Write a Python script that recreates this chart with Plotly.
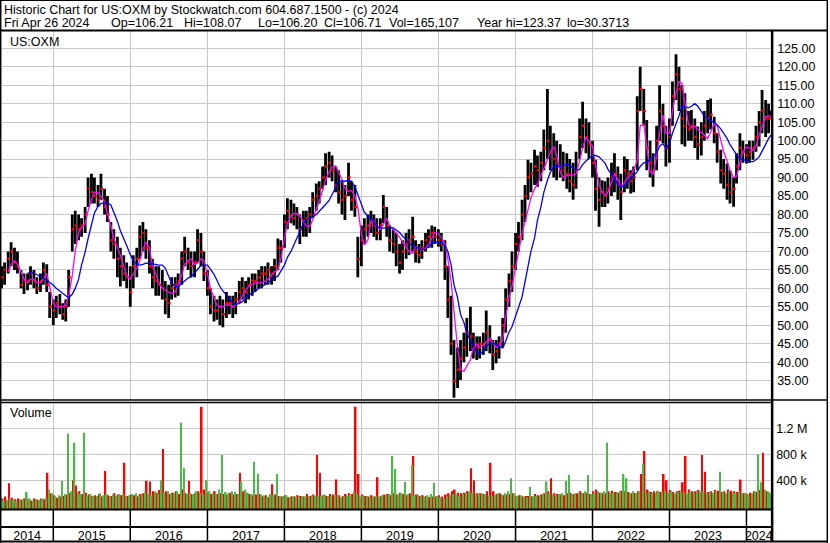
"""
Historic chart US:OXM (Stockwatch style) - price bars, two moving averages, volume.
"""
import pandas as pd
import plotly.graph_objects as go

# ---- data (semi-monthly slots, May 2014 .. 26 Apr 2024) ----
START = "2014-05-01"
LAST_DAY = "2024-04-26"
X_RANGE = ["2014-04-28", "2024-04-27"]
YEARS = list(range(2014, 2025))

HIGH = [
    66, 67, 70, 72.5, 71, 70, 65, 64, 64, 66, 65, 63,
    64, 67, 66.5, 59, 57, 58, 58.5, 56, 57, 65, 80, 81,
    80, 79, 82, 90, 91, 90, 88, 91, 87, 85, 78, 76,
    74, 71, 69, 67, 66, 69, 71, 77, 78, 76, 73, 68,
    66, 66, 65, 62, 61, 63, 63, 64, 70, 74, 71, 70,
    70, 76, 75, 70, 65, 60, 58, 57, 58, 57, 59, 58,
    58, 59, 62, 63, 62, 63, 64, 64, 65, 66, 66, 67,
    66, 68, 73.5, 73, 80, 84.4, 84, 83, 82, 80, 81, 81,
    82, 86, 88.4, 89, 93, 96.6, 97, 96, 93, 92, 89, 88,
    94, 89, 88, 74, 77, 79, 80, 81, 80, 79, 79, 85.3,
    82, 77, 76, 75, 72, 73, 75, 76, 79.4, 73, 72, 73,
    75, 76, 77, 76.7, 76, 75, 73, 66, 58, 46, 44, 46,
    48, 52, 55, 48, 47, 47, 48, 54, 50, 46, 46, 47,
    52, 60, 64, 70, 75, 78, 84, 88, 94.8, 94, 97.5, 96,
    97, 103, 114, 104, 102, 100, 99, 97, 96.6, 95, 94, 97,
    106, 110.5, 106, 105, 100, 94.8, 90, 89.3, 89, 90, 94, 96.6,
    93, 91, 95.7, 95, 92, 93, 112, 120, 114, 105.6, 100, 96.6,
    104, 115, 110, 104, 106, 116, 123.4, 120, 115, 112.8, 108, 108.3,
    106, 103.8, 105, 108, 111, 111.4, 106.5, 102, 97.5, 95, 93.8, 92,
    90, 96.6, 102, 100, 99, 100, 100, 104, 108, 113.7, 111, 110,
    108.07,
]
LOW = [
    60, 61, 64, 66, 65, 64, 60, 58.5, 59.5, 61, 60, 58.5,
    59, 61, 59, 52, 50, 52, 53, 51.5, 51, 55, 70, 72,
    73, 74, 75, 82, 83, 83, 82, 84, 80, 78, 70, 68,
    63, 60.5, 62, 60, 55, 60, 63, 68, 70, 68, 64, 60,
    58, 58, 57, 53, 52, 57, 57.5, 58, 61, 66, 65, 63,
    63, 67, 66, 62, 58, 53, 51, 51.5, 50, 49.5, 52, 53,
    52, 53, 56, 57, 56, 57, 58, 59, 60, 60, 61, 61,
    61, 62, 65, 67, 71, 76, 77.6, 77, 76, 72, 74, 74,
    75, 79, 81, 83, 87, 88, 90, 89, 86, 83, 80, 78.5,
    85, 81, 79.4, 63, 66, 72, 74, 75, 74, 73, 73, 77.6,
    74, 70, 69.5, 66, 64, 65, 68, 69, 70, 67, 66.8, 68,
    70, 71, 71, 72, 71.3, 70, 62.3, 52, 42, 30.4, 33, 35.2,
    40, 41.5, 43, 41, 40.6, 41, 42, 43, 42.4, 37.9, 39.7, 41,
    44, 48, 55, 59, 65, 70, 73, 78, 84, 86, 88, 87.5,
    89, 92, 95, 92, 90, 89.3, 90, 89, 87, 86, 84, 87,
    95, 98, 96.6, 95, 90, 81, 76.7, 82, 82, 83, 85, 86,
    84, 78.5, 86, 87, 85.7, 86, 92, 108, 104, 92, 90, 87.5,
    92, 100, 99.3, 93, 94, 104, 111, 108, 99, 98.4, 100, 100,
    98, 94.8, 96, 100, 102, 103, 99.3, 94, 88.4, 87, 84, 83,
    82.1, 88.4, 92, 94, 93.8, 94, 94.8, 97, 98.4, 102, 101, 102,
    106.2,
]
CLOSE = [
    63, 65, 68, 70, 67, 66, 61, 62, 62, 64, 62, 60,
    62, 65, 61, 55, 54, 56, 55, 53, 55, 63, 76, 77,
    76, 77, 80, 87, 86, 85, 84, 87, 82, 80, 73, 72,
    68, 66, 64, 63, 59, 66, 68, 74, 75, 71, 66, 63,
    62, 61, 60, 57, 56, 60, 61, 62, 68, 70, 67, 66,
    67, 73, 70, 64, 60, 55, 54, 54, 55, 53, 56, 56,
    55, 57, 59, 60, 59, 61, 62, 62, 63, 64, 64, 65,
    64, 66, 71, 71, 78, 81, 80, 79, 80, 76, 78, 79,
    80, 84, 85, 87, 90, 93, 94, 92, 88, 86, 84, 85,
    90, 84, 82, 68, 73, 76, 77, 78, 77, 75, 77, 82,
    77, 73, 72, 70, 67, 70, 72, 73, 74, 70, 69, 71,
    73, 74, 75, 74, 73, 72, 66, 57, 45, 35, 38, 41,
    44, 48, 47, 44, 44, 45, 45, 48, 46, 42, 43, 45,
    50, 57, 62, 66, 72, 74, 80, 85, 90, 91, 93, 92,
    94, 98, 100, 97, 95, 94, 93, 92, 91, 89, 88, 92,
    101, 104, 101, 99, 94, 87, 84, 86, 85, 87, 90, 91,
    88, 86, 92, 91, 89, 90, 108, 114, 108, 98, 94, 92,
    100, 108, 104, 98, 101, 112, 118, 114, 106, 104, 103, 104,
    101, 99, 101, 104, 106, 107, 102, 97, 92, 91, 88, 86,
    87, 93, 98, 97, 96, 97, 98, 101, 105, 108, 106, 106,
    106.71,
]
# magenta (short) moving average
MA_SHORT = [
    None, None, 64.5, 66.5, 67.5, 66.5, 64.5, 62.5, 61.5, 62.5, 62.5, 61.5,
    61.5, 62.5, 64, 60, 56, 55, 55, 55, 55.5, 58, 63.5, 70,
    75, 76.5, 77.5, 81, 84, 86, 86, 85, 83.5, 80, 77, 73.5,
    71, 69, 66, 63.5, 62.5, 64, 65.5, 67.5, 70.5, 72.5, 71, 66,
    64, 61.5, 60, 59.5, 59, 58.6, 59, 61, 63.5, 66.5, 67.5, 68,
    66.5, 66.8, 68, 67.5, 64, 60, 57.5, 55.5, 55, 55, 55.5, 55.5,
    55, 55.5, 56.5, 58, 59.5, 60.5, 61, 61.5, 61.5, 61.5, 62, 62.5,
    63.5, 64.5, 65, 68, 73.5, 77.5, 79.5, 80.3, 80.3, 79.6, 78, 77,
    76.7, 78.5, 81.5, 83.5, 86.5, 89.3, 91.5, 92.8, 93.2, 91.5, 89.5, 87,
    86.2, 86.5, 85, 82, 74.6, 71.7, 73.1, 78.1, 78.5, 76.8, 75.9, 77.4,
    79, 77, 76, 75, 73.8, 72.5, 71, 70, 69.5, 71.3, 70.8, 70.4,
    70.8, 71.8, 73.5, 75.2, 74.8, 73.8, 72, 68, 62, 53.5, 44, 38,
    37.5, 39, 40.6, 44, 45, 44, 44.5, 45.5, 46.5, 45.3, 44, 44.5,
    46, 52, 57.5, 60.5, 65.5, 70.5, 74.8, 78, 81, 84.5, 87, 88.2,
    90.5, 92.5, 94.5, 96.8, 98.4, 96, 91.5, 90, 90.5, 90.7, 90.7, 91,
    94.5, 98, 101, 100, 98.5, 93.5, 88, 86, 85.3, 86, 88.5, 91,
    89.5, 87.6, 88.5, 90, 90.6, 92, 94.5, 104, 104.5, 99, 91.5, 91,
    95.5, 102, 107, 102, 102, 108, 113, 116, 115.5, 110.5, 104.5, 103.4,
    104, 103, 102.2, 101.5, 100.5, 102.3, 104.6, 104, 100.5, 97, 94.5, 92,
    90, 90.3, 94, 97, 98.3, 98, 97.3, 98.5, 101.5, 104, 106.5, 106.7,
    106.5,
]
# blue (long) moving average
MA_LONG = [
    None, None, None, None, None, None, None, None, 64.2, 64.2, 64.1, 63.7,
    63.2, 62.6, 62.2, 61.6, 60.9, 60, 59.2, 58.5, 58, 57.5, 58.4, 60,
    62.5, 66.3, 69.8, 73.5, 77.3, 80.4, 82.2, 83, 83.1, 83.1, 82.6, 80.8,
    78.2, 75.6, 73.7, 71.6, 69.2, 67.5, 66.4, 66.3, 66.5, 66.8, 66.8, 66.6,
    66.4, 66.3, 66.3, 65.5, 63.3, 61.5, 60.5, 60.5, 61.3, 62.1, 62.8, 63.1,
    64.2, 65.2, 66.2, 66.3, 66.3, 65.2, 63.8, 62.2, 60.5, 59.3, 58.2, 57,
    56.1, 55.6, 55.9, 56.4, 57.4, 58.2, 58.7, 59.3, 59.9, 60.5, 61, 61.6,
    62.2, 62.8, 63.3, 64.8, 66.3, 68.4, 70, 71.8, 73.6, 75.3, 77.5, 78.6,
    79, 79.3, 80, 80.8, 81.7, 82.7, 83.8, 85.5, 87.3, 89, 89.1, 89,
    89.2, 89, 87.6, 85.5, 82.5, 80.6, 79.6, 78.8, 78.1, 76.8, 76.3, 76.3,
    76.5, 76.6, 76.4, 75.8, 75.1, 74.2, 73.3, 72.1, 71.5, 71.2, 70.8, 70.5,
    70.6, 71.2, 72.2, 72.5, 72.6, 72.4, 71.7, 70, 66.5, 61, 57.5, 53,
    50.8, 47.8, 46, 44.3, 42.8, 42.2, 43, 44.3, 45.1, 45.1, 44.9, 44.3,
    43.9, 45.6, 48.2, 49.6, 52.2, 54.8, 57.7, 62, 66.2, 70, 73.6, 78.5,
    82, 86, 89.2, 91.5, 92.9, 93.1, 92.9, 93.4, 93.6, 93.2, 92.5, 92,
    92.2, 93.5, 94.5, 95.2, 96, 96, 95.6, 94.8, 93.9, 92.3, 90.8, 89.5,
    88.2, 87.6, 87.7, 88.6, 89.5, 90.5, 91.6, 93, 94, 94.2, 94.9, 95.7,
    96.6, 98.5, 99.2, 98, 99.3, 102, 104.3, 106.7, 109.2, 109.2, 108.9, 109.3,
    110, 109.3, 107.9, 106.6, 106.1, 105.4, 104.9, 104.3, 103.2, 102, 100.6, 98.9,
    97.3, 96.2, 95.1, 94.8, 94.4, 94.3, 94.3, 94.8, 95.6, 97, 99, 100.6,
    101.5,
]
# volume in thousands: up-day (green) and down-day (red) peaks per slot
VOL_UP = [
    110, 90, 100, 120, 100, 80, 110, 100, 225, 120, 90, 110,
    100, 120, 130, 260, 200, 150, 170, 389, 190, 1120, 230, 979,
    210, 190, 1130, 170, 190, 150, 160, 200, 170, 190, 150, 180,
    160, 190, 180, 150, 170, 190, 200, 170, 180, 220, 190, 170,
    230, 190, 400, 210, 230, 190, 210, 230, 1286, 585, 190, 210,
    190, 230, 210, 180, 400, 230, 200, 190, 260, 789, 220, 200,
    230, 220, 190, 380, 260, 210, 190, 686, 500, 180, 170, 150,
    190, 170, 497, 150, 160, 170, 140, 160, 150, 140, 160, 150,
    150, 170, 160, 160, 150, 180, 160, 150, 170, 150, 140, 160,
    160, 180, 230, 190, 150, 170, 160, 140, 150, 160, 150, 170,
    170, 190, 774, 574, 180, 200, 374, 190, 635, 160, 180, 150,
    150, 170, 190, 364, 160, 140, 120, 150, 170, 190, 180, 160,
    190, 200, 230, 210, 190, 180, 200, 190, 170, 160, 180, 200,
    180, 200, 230, 430, 200, 160, 170, 150, 140, 300, 160, 160,
    160, 190, 380, 200, 180, 170, 190, 200, 390, 482, 190, 200,
    200, 210, 230, 482, 190, 200, 230, 210, 230, 979, 210, 200,
    220, 230, 497, 430, 210, 230, 200, 230, 650, 210, 230, 200,
    210, 230, 220, 240, 210, 230, 200, 220, 230, 210, 200, 230,
    210, 230, 220, 230, 200, 220, 210, 230, 533, 220, 200, 230,
    210, 200, 230, 190, 210, 180, 200, 230, 800, 370, 260, 230,
    200,
]
VOL_DOWN = [
    120, 150, 354, 130, 110, 120, 100, 120, 110, 90, 120, 100,
    120, 110, 517, 200, 170, 130, 150, 160, 180, 210, 400, 320,
    230, 190, 210, 180, 160, 170, 190, 150, 543, 170, 160, 200,
    180, 170, 671, 160, 180, 170, 150, 190, 200, 395, 380, 230,
    210, 250, 882, 230, 190, 210, 230, 190, 260, 210, 395, 190,
    200, 230, 1530, 260, 210, 190, 230, 190, 200, 190, 180, 210,
    180, 190, 517, 230, 210, 190, 170, 180, 190, 150, 170, 140,
    340, 180, 160, 150, 170, 140, 150, 150, 170, 160, 150, 190,
    160, 180, 789, 517, 170, 160, 190, 180, 412, 170, 160, 190,
    200, 190, 1530, 497, 180, 160, 150, 170, 150, 446, 160, 180,
    190, 170, 200, 180, 210, 190, 170, 200, 774, 180, 160, 170,
    160, 140, 150, 150, 170, 150, 180, 200, 230, 260, 210, 200,
    210, 230, 585, 400, 200, 200, 190, 230, 671, 230, 190, 200,
    170, 180, 190, 200, 160, 170, 150, 160, 160, 150, 190, 170,
    180, 200, 230, 430, 200, 190, 180, 170, 200, 210, 190, 200,
    230, 200, 210, 190, 230, 260, 210, 200, 200, 230, 240, 220,
    210, 240, 230, 220, 200, 210, 230, 497, 851, 260, 220, 230,
    230, 220, 497, 400, 250, 220, 230, 240, 370, 774, 260, 230,
    230, 250, 789, 533, 220, 230, 250, 240, 220, 230, 260, 240,
    230, 220, 412, 200, 190, 210, 230, 220, 250, 825, 230, 210,
    165,
]
PRICE_TICKS = [35, 40, 45, 50, 55, 60, 65, 70, 75, 80, 85, 90, 95, 100, 105, 110, 115, 120, 125]
VOL_TICKS = [400, 800, 1200]
VOL_TICK_TEXT = ["400 k", "800 k", "1.2 M"]

TITLE_LINE = "Historic Chart for US:OXM by Stockwatch.com 604.687.1500 - (c) 2024"
QUOTE_FIELDS = ["Fri Apr 26 2024", "Op=106.21", "Hi=108.07", "Lo=106.20",
                "Cl=106.71", "Vol=165,107", "Year hi=123.37", "lo=30.3713"]

# ---- layout helpers (pixel -> paper) ----
W, H = 830, 543
FONT = "Liberation Sans, Arial, sans-serif"
GRID = "#c8c8c8"
GREEN = "#4cb848"


def fx(px):
    return px / W


def fy(px):
    return 1 - px / H


dates = list(pd.date_range(START, periods=240, freq="SMS")) + [pd.Timestamp(LAST_DAY)]
year_starts = [pd.Timestamp(f"{y}-01-01") for y in YEARS[1:]]
r0, r1 = pd.Timestamp(X_RANGE[0]), pd.Timestamp(X_RANGE[1])
year_mid = []
for y in YEARS:
    a = max(pd.Timestamp(f"{y}-01-01"), r0)
    b = min(pd.Timestamp(f"{y + 1}-01-01"), r1)
    year_mid.append(a + (b - a) / 2)

# price bars as one broken line
bx, by = [], []
for d, lo, hi in zip(dates, LOW, HIGH):
    bx += [d, d, None]
    by += [lo, hi, None]

fig = go.Figure()
fig.add_trace(go.Scatter(x=bx, y=by, mode="lines", line=dict(color="#000000", width=2.8),
                         xaxis="x", yaxis="y", hoverinfo="skip"))
fig.add_trace(go.Scatter(x=[d + pd.Timedelta(days=4) for d in dates], y=CLOSE, mode="markers",
                         marker=dict(color="#ff0000", size=2.5, symbol="square", line=dict(width=0)),
                         xaxis="x", yaxis="y"))
fig.add_trace(go.Scatter(x=dates, y=MA_SHORT, mode="lines", line=dict(color="#ff00ff", width=1.3),
                         connectgaps=False, xaxis="x", yaxis="y"))
fig.add_trace(go.Scatter(x=dates, y=MA_LONG, mode="lines", line=dict(color="#0000ff", width=1.3),
                         connectgaps=False, xaxis="x", yaxis="y"))

VOL_FLOOR = -41.5
VOL_TOP = 1597
half = 7.6 * 86400000
# red first, green on top so neither colour swamps the other
fig.add_trace(go.Bar(x=dates, y=[v - VOL_FLOOR for v in VOL_DOWN], base=VOL_FLOOR,
                     offset=0, width=half, marker=dict(color="#ff0000", line=dict(width=0)),
                     xaxis="x2", yaxis="y2"))
fig.add_trace(go.Bar(x=dates, y=[v - VOL_FLOOR for v in VOL_UP], base=VOL_FLOOR,
                     offset=-half, width=half, marker=dict(color=GREEN, line=dict(width=0)),
                     xaxis="x2", yaxis="y2"))

tick_font = dict(family=FONT, size=12.5, color="#000000")
fig.update_layout(
    width=W, height=H,
    margin=dict(l=0, r=0, t=0, b=0),
    paper_bgcolor="white", plot_bgcolor="white",
    showlegend=False, barmode="overlay",
    xaxis=dict(domain=[fx(1), fx(773)], range=X_RANGE, type="date", anchor="y",
               tickvals=year_starts, showticklabels=False, ticks="",
               showgrid=True, gridcolor=GRID, gridwidth=1, zeroline=False, showline=False),
    yaxis=dict(domain=[fy(400), fy(31)], range=[29.774, 129.684], anchor="x", side="right",
               tickvals=PRICE_TICKS, tickformat=".2f", ticks="", ticklabelstandoff=5,
               tickfont=tick_font, showgrid=True, gridcolor=GRID, gridwidth=1,
               zeroline=False, showline=False),
    xaxis2=dict(domain=[fx(1), fx(773)], range=X_RANGE, type="date", anchor="y2",
                tickvals=year_mid, ticktext=[str(y) for y in YEARS], ticks="",
                tickfont=dict(family=FONT, size=12.5, color="#000000"), ticklabelstandoff=17,
                showgrid=False, zeroline=False, showline=False,
                minor=dict(tickvals=year_starts, showgrid=True, gridcolor=GRID, gridwidth=1, ticks="")),
    yaxis2=dict(domain=[fy(509), fy(402.5)], range=[VOL_FLOOR, VOL_TOP], anchor="x2", side="right",
                tickvals=VOL_TICKS, ticktext=VOL_TICK_TEXT, ticks="", ticklabelstandoff=4,
                tickfont=tick_font, showgrid=True, gridcolor=GRID, gridwidth=1,
                zeroline=False, showline=False),
)

# frame lines
shapes = []


def hline(y, x0, x1, w):
    shapes.append(dict(type="line", xref="paper", yref="paper", x0=fx(x0), x1=fx(x1),
                       y0=fy(y), y1=fy(y), line=dict(color="black", width=w)))


def vline(x, y0, y1, w):
    shapes.append(dict(type="line", xref="paper", yref="paper", x0=fx(x), x1=fx(x),
                       y0=fy(y0), y1=fy(y1), line=dict(color="black", width=w)))


hline(0.5, 0, 830, 1)
hline(30.5, 0, 830, 2)
hline(400, 0, 830, 1.5)
hline(402.5, 0, 774, 1.5)
hline(509.5, 0, 774, 2)
hline(527, 0, 774, 2)
hline(541.5, 0, 830, 2)
vline(0.7, 0, 543, 1.5)
vline(829.3, 0, 543, 1.5)
vline(774, 30, 542, 2.5)
for d in year_starts:
    shapes.append(dict(type="line", xref="x2", yref="paper", x0=d, x1=d,
                       y0=fy(509), y1=fy(541), line=dict(color="black", width=1.5)))
fig.update_layout(shapes=shapes)

# texts
ann = [dict(text=TITLE_LINE, x=fx(2), y=fy(9.5))]
for txt, px in zip(QUOTE_FIELDS, [2, 109, 182.7, 256.7, 322.7, 387.7, 476, 566.7]):
    ann.append(dict(text=txt, x=fx(px), y=fy(23)))
ann.append(dict(text="US:OXM", x=fx(8), y=fy(42)))
ann.append(dict(text="Volume", x=fx(8), y=fy(413)))
fig.update_layout(annotations=[
    dict(a, xref="paper", yref="paper", xanchor="left", yanchor="middle", showarrow=False,
         font=dict(family=FONT, size=12.5, color="#000000"))
    for a in ann
])

# the page body has a default 8px margin; drop it so the figure fills the window
fig.write_html("out.html", config={"displayModeBar": False},
               post_script="document.body.style.margin='0';")
